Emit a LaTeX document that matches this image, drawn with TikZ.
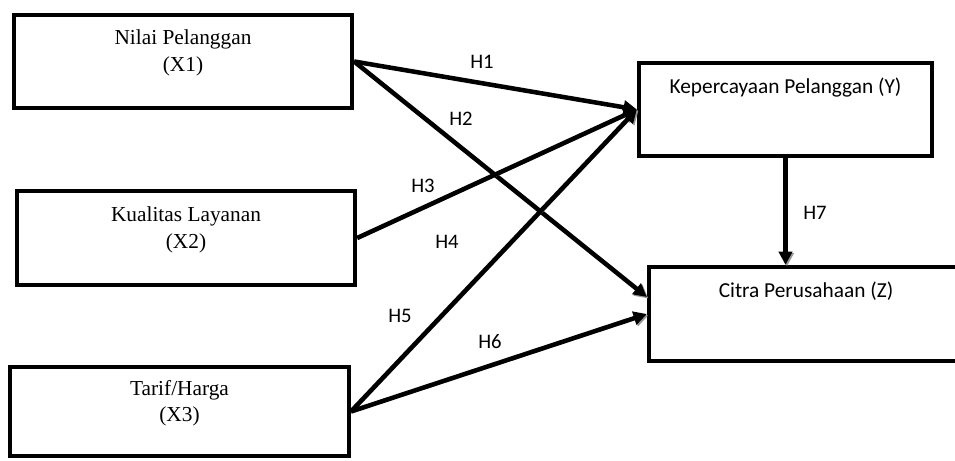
\documentclass[tikz,border=0pt]{standalone}
\usepackage{fontspec}
\setmainfont{Liberation Serif}
\newfontfamily\calibri{Carlito}
\usetikzlibrary{arrows.meta,positioning}
\definecolor{shadowgray}{RGB}{150,150,150}
\tikzset{
  varbox/.style={rectangle, draw=black, line width=3.2pt, align=center, inner sep=0pt,
                 minimum width=253.5pt, minimum height=70pt, text depth=16pt,
                 font=\fontsize{16}{20}\selectfont},
  endbox/.style={varbox, text depth=36pt, font=\calibri\fontsize{16}{20}\selectfont},
  arrow/.style={-{Triangle[length=10pt,width=10pt]}, line width=3.4pt, black,
                preaction={draw=shadowgray, transform canvas={shift={(1.1pt,-1.1pt)}}}},
  hlabel/.style={font=\calibri\fontsize{15.5}{18}\selectfont, inner sep=1pt},
}
\begin{document}
\begin{tikzpicture}[x=0.75pt,y=-0.75pt]
\useasboundingbox (0,0) rectangle (955,460);
% variabel bebas
\node[varbox] (x1) at (183,61.5) {Nilai Pelanggan\\(X1)};
\node[varbox, minimum height=70.5pt] (x2) at (186,238) {Kualitas Layanan\\(X2)};
\node[varbox, minimum width=254pt, minimum height=66.75pt] (x3) at (179.5,411.5) {Tarif/Harga\\(X3)};
% variabel terikat
\node[endbox, minimum width=219.75pt, minimum height=69.75pt] (y) at (785.5,109.5) {Kepercayaan Pelanggan (Y)};
\node[endbox, minimum width=235.5pt, minimum height=70.5pt] (z) at (806,314) {Citra Perusahaan (Z)};

% hipotesis
\draw[arrow] (x1.east) -- (y.west);
\draw[arrow] (x1.east) -- ([yshift=12.75pt]z.west);
\draw[arrow] (x2.east) -- (y.west);
\draw[arrow] (x3.east) -- (y.west);
\draw[arrow] (x3.east) -- (z.west);
\draw[arrow] (y.south) -- (y.south |- z.north);

\node[hlabel] (h1) at (482,62) {H1};
\node[hlabel] (h2) at (461,119) {H2};
\node[hlabel] (h3) at (423,186) {H3};
\node[hlabel] (h4) at (447,242) {H4};
\node[hlabel] (h5) at (400,316) {H5};
\node[hlabel] (h6) at (490,342) {H6};
\node[hlabel] (h7) at (815,213) {H7};
\end{tikzpicture}
\end{document}
